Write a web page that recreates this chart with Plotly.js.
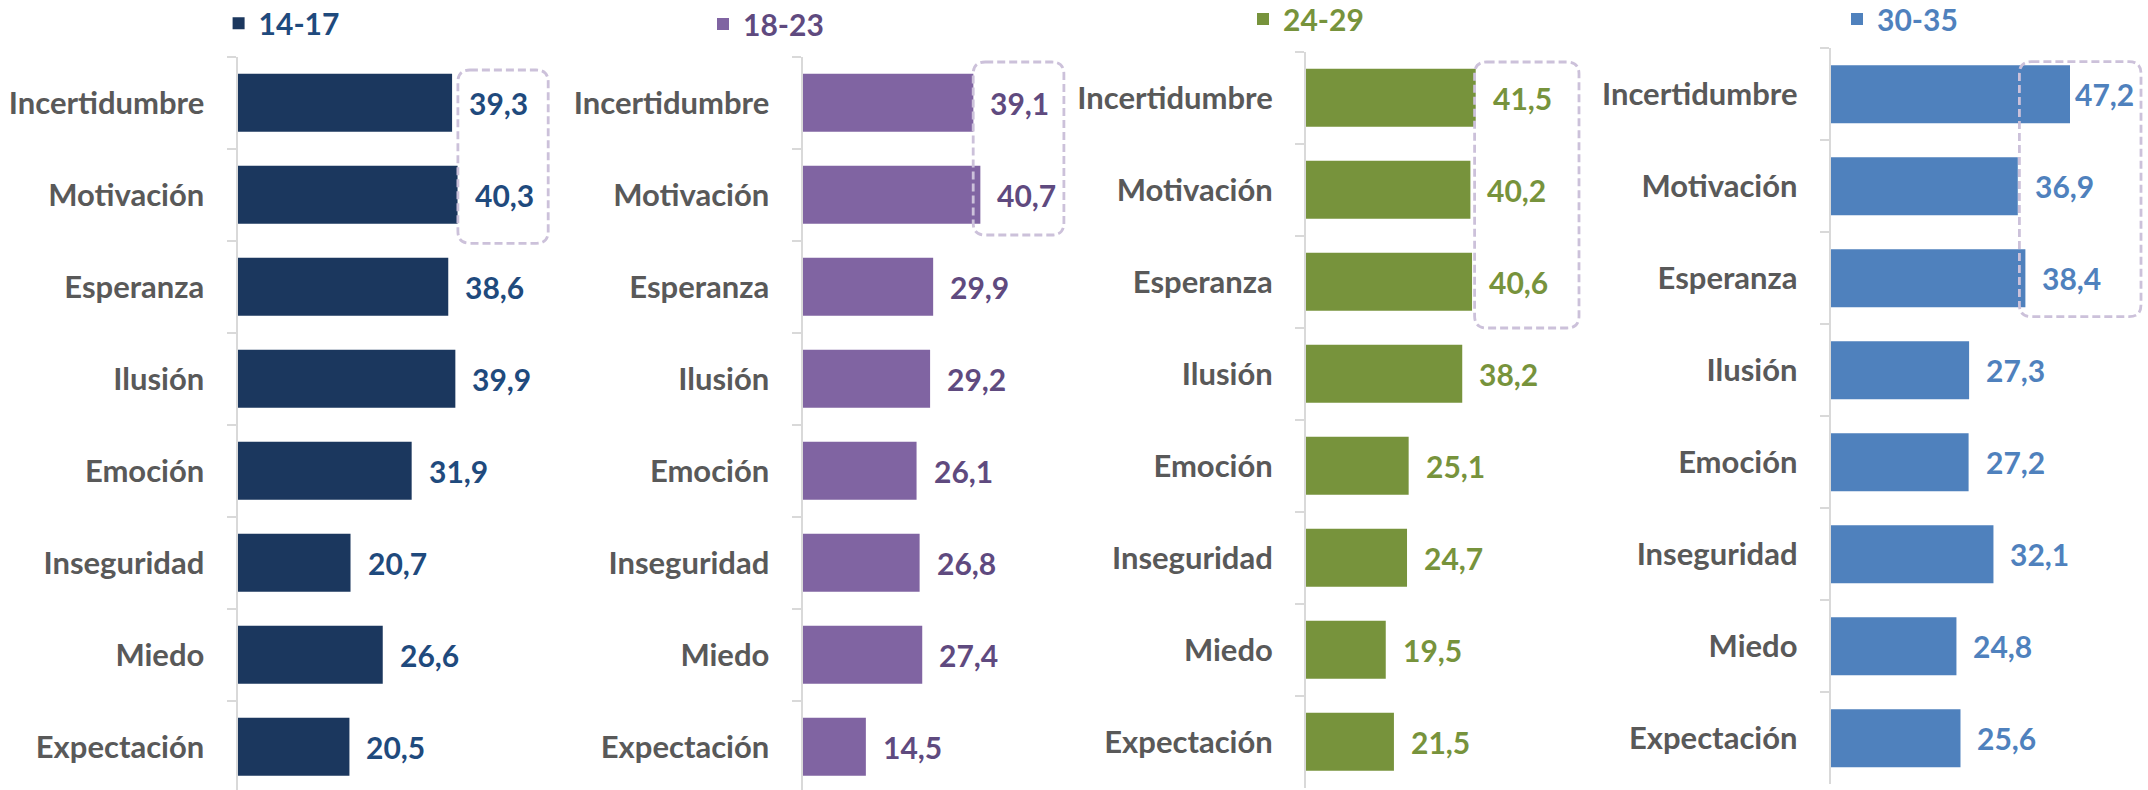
<!DOCTYPE html>
<html>
<head>
<meta charset="utf-8">
<script src="https://cdn.plot.ly/plotly-3.0.1.min.js"></script>
<style>
  html, body { margin: 0; padding: 0; background: #ffffff; }
  #chart { width: 2148px; height: 790px; }
</style>
</head>
<body>
<div id="chart"></div>
<script>
// ---------------- DATA ----------------
const categories = ['Incertidumbre', 'Motivación', 'Esperanza', 'Ilusión', 'Emoción', 'Inseguridad', 'Miedo', 'Expectación'];
const groups = ['14-17', '18-23', '24-29', '30-35'];
const values1417 = [39.3, 40.3, 38.6, 39.9, 31.9, 20.7, 26.6, 20.5];
const values1823 = [39.1, 40.7, 29.9, 29.2, 26.1, 26.8, 27.4, 14.5];
const values2429 = [41.5, 40.2, 40.6, 38.2, 25.1, 24.7, 19.5, 21.5];
const values3035 = [47.2, 36.9, 38.4, 27.3, 27.2, 32.1, 24.8, 25.6];
const highlighted1417 = ['Incertidumbre', 'Motivación'];
const highlighted1823 = ['Incertidumbre', 'Motivación'];
const highlighted2429 = ['Incertidumbre', 'Motivación', 'Esperanza'];
const highlighted3035 = ['Incertidumbre', 'Motivación', 'Esperanza'];

// ---------------- STYLE / LAYOUT ----------------
const W = 2148, H = 790;
const FONT = 'Lato, "Open Sans", sans-serif';
const FS_CAT = 31;
const FS_VAL = 30;
const BAND = 92;            // pixel height of one category band
const PLOT_W = 310;         // pixel width of each x domain

const panels = [
  { name: groups[0], values: values1417, hl: highlighted1417, bar: '#1b375e', label: '#1f4a7d',
    x0: 237.5, ppu: 5.46, top: 56.7, legX: 244.6, legY: 23.3,
    box: { x0: 457.9, x1: 548.2, y0: 70, y1: 243.3 }, shift: {} },
  { name: groups[1], values: values1823, hl: highlighted1823, bar: '#8064a2', label: '#5f4a7f',
    x0: 802.5, ppu: 4.37, top: 56.7, legX: 729, legY: 24,
    box: { x0: 973.2, x1: 1063.9, y0: 62, y1: 235 }, shift: {} },
  { name: groups[2], values: values2429, hl: highlighted2429, bar: '#77933c', label: '#77933c',
    x0: 1306, ppu: 4.09, top: 51.7, legX: 1269, legY: 19,
    box: { x0: 1474.6, x1: 1579, y0: 62, y1: 328 }, shift: {} },
  { name: groups[3], values: values3035, hl: highlighted3035, bar: '#4f81bd', label: '#4f81bd',
    x0: 1830.7, ppu: 5.07, top: 48.3, legX: 1863, legY: 19,
    box: { x0: 2019.4, x1: 2141, y0: 61.7, y1: 316.7 }, shift: { 0: 3 } }
];

const fmt = v => v.toFixed(1).replace('.', ',');
const px2x = p => p / W;
const px2y = p => 1 - p / H;

function roundedRectPath(b, r) {
  const X = px2x, Y = px2y;
  return 'M' + X(b.x0 + r) + ',' + Y(b.y0) +
    ' L' + X(b.x1 - r) + ',' + Y(b.y0) +
    ' Q' + X(b.x1) + ',' + Y(b.y0) + ' ' + X(b.x1) + ',' + Y(b.y0 + r) +
    ' L' + X(b.x1) + ',' + Y(b.y1 - r) +
    ' Q' + X(b.x1) + ',' + Y(b.y1) + ' ' + X(b.x1 - r) + ',' + Y(b.y1) +
    ' L' + X(b.x0 + r) + ',' + Y(b.y1) +
    ' Q' + X(b.x0) + ',' + Y(b.y1) + ' ' + X(b.x0) + ',' + Y(b.y1 - r) +
    ' L' + X(b.x0) + ',' + Y(b.y0 + r) +
    ' Q' + X(b.x0) + ',' + Y(b.y0) + ' ' + X(b.x0 + r) + ',' + Y(b.y0) + ' Z';
}

const traces = [];
const layout = {
  width: W, height: H,
  margin: { l: 0, r: 0, t: 0, b: 0, pad: 0, autoexpand: false },
  paper_bgcolor: '#ffffff', plot_bgcolor: 'rgba(0,0,0,0)',
  bargap: 0.37,
  showlegend: true,
  annotations: [],
  shapes: []
};

panels.forEach((p, i) => {
  const n = i + 1;
  const xa = 'x' + (n === 1 ? '' : n);
  const ya = 'y' + (n === 1 ? '' : n);
  const legName = 'legend' + (n === 1 ? '' : n);

  traces.push({
    type: 'bar', orientation: 'h',
    x: p.values, y: categories,
    name: p.name,
    marker: { color: p.bar, line: { width: 0 } },
    xaxis: xa, yaxis: ya,
    legend: legName,
    hoverinfo: 'skip',
    cliponaxis: false
  });

  const bottomPx = p.top + BAND * categories.length;
  const domBottomPx = Math.min(bottomPx, H);
  const rangeBottom = categories.length - 0.5 - (bottomPx - domBottomPx) / BAND;

  layout['xaxis' + (n === 1 ? '' : n)] = {
    domain: [px2x(p.x0), px2x(p.x0 + PLOT_W)],
    range: [0, PLOT_W / p.ppu],
    anchor: ya,
    visible: false,
    fixedrange: true
  };
  layout['yaxis' + (n === 1 ? '' : n)] = {
    domain: [px2y(domBottomPx), px2y(p.top)],
    anchor: xa,
    type: 'category',
    categoryorder: 'array', categoryarray: categories,
    range: [rangeBottom, -0.5],
    showline: true, linecolor: '#d9d9d9', linewidth: 2,
    ticks: 'outside', tickson: 'boundaries', ticklen: 9, tickwidth: 2, tickcolor: '#d9d9d9',
    ticklabelstandoff: 25,
    showgrid: false, zeroline: false,
    tickfont: { family: FONT, size: FS_CAT, color: '#595959', weight: 'bold' },
    fixedrange: true
  };

  layout[legName] = {
    x: px2x(p.legX - 26), xanchor: 'left',
    y: px2y(p.legY), yanchor: 'middle',
    orientation: 'h',
    bgcolor: 'rgba(0,0,0,0)', borderwidth: 0,
    font: { family: FONT, size: FS_VAL, color: p.label, weight: 'bold' },
    itemclick: false, itemdoubleclick: false
  };

  p.values.forEach((v, k) => {
    layout.annotations.push({
      xref: xa, yref: ya,
      x: v, y: categories[k],
      text: fmt(v),
      showarrow: false,
      xanchor: 'left', yanchor: 'middle',
      xshift: (p.shift[k] !== undefined ? p.shift[k] : 15),
      font: { family: FONT, size: FS_VAL, color: p.label, weight: 'bold' }
    });
  });

  layout.shapes.push({
    type: 'path', xref: 'paper', yref: 'paper', layer: 'above',
    path: roundedRectPath(p.box, 12),
    line: { color: '#ccc1da', width: 2.8, dash: '8px,4px' },
    fillcolor: 'rgba(0,0,0,0)'
  });
});

Plotly.newPlot('chart', traces, layout, { displayModeBar: false, staticPlot: true });
</script>
</body>
</html>
